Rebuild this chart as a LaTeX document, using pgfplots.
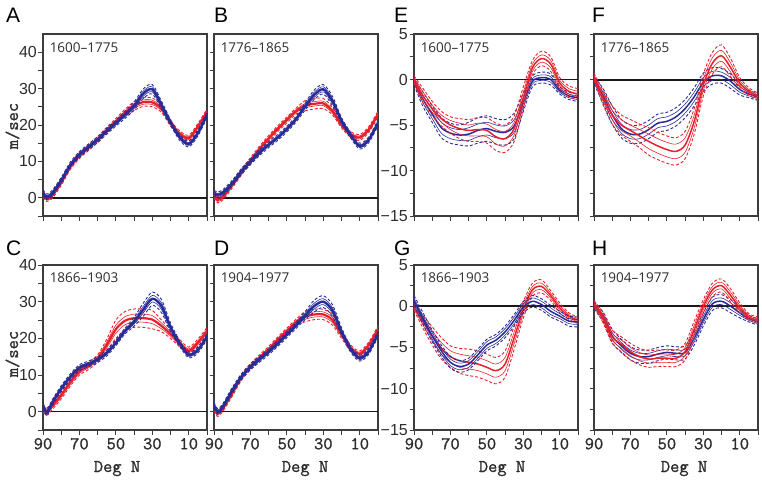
\documentclass[border=0pt]{standalone}
\usepackage{pgfplots}
\pgfplotsset{compat=1.18}
\usepackage{pgfplotstable}
\usepackage{fontspec}
\setmainfont{Liberation Sans}
\newfontfamily\insetfont{Open Sans}
\newfontfamily\monob{Latin Modern Mono}[FakeBold=1.2]
\definecolor{cred}{RGB}{232,32,42}
\definecolor{cblue}{RGB}{40,44,150}
\definecolor{axgray}{RGB}{60,60,60}
\definecolor{txtgray}{RGB}{45,45,45}

% ---------------- data: x, mean, inner upper/lower, outer upper/lower
\pgfplotstableread{
x m a b c d
90 1.5 1.9 1.1 2.3 0.7
88 0.2 0.6 -0.2 1.0 -0.6
85 1.2 1.6 0.8 2.0 0.4
80 4.8 5.2 4.4 5.6 4.0
75 9.0 9.4 8.6 9.8 8.2
70 11.9 12.3 11.5 12.7 11.1
65 14.0 14.4 13.6 14.8 13.2
60 16.0 16.4 15.6 16.8 15.2
55 18.3 18.7 17.9 19.1 17.5
50 20.5 20.9 20.1 21.3 19.7
45 22.8 23.3 22.3 23.8 21.8
40 25.2 25.8 24.6 26.3 24.1
35 28.6 29.3 27.9 29.9 27.3
30 29.8 30.5 29.1 31.1 28.5
25 25.5 26.1 24.9 26.6 24.4
20 20.7 21.1 20.3 21.5 19.9
15 16.6 17.0 16.2 17.4 15.8
10 14.8 15.2 14.4 15.6 14.0
5 17.8 18.2 17.4 18.6 17.0
0 22.8 23.2 22.4 23.6 22.0
}\Ab
\pgfplotstableread{
x m a b c d
90 1.0 1.4 0.6 1.8 0.2
88 -0.2 0.2 -0.6 0.6 -1.0
85 0.6 1.0 0.2 1.4 -0.2
80 4.2 4.6 3.8 5.0 3.4
75 8.6 9.0 8.2 9.4 7.8
70 11.6 12.0 11.2 12.4 10.8
65 13.8 14.2 13.4 14.6 13.0
60 16.0 16.4 15.6 16.8 15.2
55 18.6 19.0 18.2 19.4 17.8
50 21.0 21.4 20.6 21.8 20.2
45 23.3 23.8 22.8 24.3 22.3
40 25.2 25.8 24.6 26.4 24.0
35 26.3 26.9 25.7 27.5 25.1
30 26.2 26.8 25.6 27.4 25.0
25 24.5 25.0 24.0 25.5 23.5
20 20.5 20.9 20.1 21.3 19.7
15 17.6 18.0 17.2 18.4 16.8
10 16.4 16.8 16.0 17.2 15.6
5 19.6 20.0 19.2 20.4 18.8
0 23.6 24.0 23.2 24.4 22.8
}\Ar
\pgfplotstableread{
x m a b c d
90 1.3 1.7 0.9 2.1 0.5
88 0.8 1.2 0.4 1.6 0.0
85 1.5 1.9 1.1 2.3 0.7
80 4.0 4.4 3.6 4.8 3.2
75 7.2 7.6 6.8 8.0 6.4
70 9.9 10.3 9.5 10.7 9.1
65 12.4 12.8 12.0 13.2 11.6
60 14.6 15.0 14.2 15.4 13.8
55 16.6 17.0 16.2 17.4 15.8
50 18.9 19.3 18.5 19.7 18.1
45 21.6 22.0 21.2 22.4 20.8
40 25.1 25.6 24.6 26.1 24.1
35 28.3 29.0 27.6 29.6 27.0
30 29.8 30.5 29.1 31.1 28.5
25 26.6 27.3 25.9 27.9 25.3
20 21.2 21.6 20.8 22.0 20.4
15 17.2 17.6 16.8 18.0 16.4
10 14.2 14.6 13.8 15.0 13.4
5 16.0 16.4 15.6 16.8 15.2
0 20.6 21.0 20.2 21.4 19.8
}\Bb
\pgfplotstableread{
x m a b c d
90 0.8 1.2 0.4 1.6 0.0
88 -0.6 -0.2 -1.0 0.2 -1.4
85 0.3 0.7 -0.1 1.1 -0.5
80 3.5 3.9 3.1 4.3 2.7
75 7.0 7.4 6.6 7.8 6.2
70 10.2 10.6 9.8 11.0 9.4
65 13.4 13.8 13.0 14.2 12.6
60 16.3 16.7 15.9 17.1 15.5
55 19.0 19.4 18.6 19.8 18.2
50 21.4 21.8 21.0 22.2 20.6
45 23.8 24.2 23.4 24.6 23.0
40 25.3 25.9 24.7 26.7 23.9
35 25.8 26.4 25.2 27.2 24.4
30 25.9 26.5 25.3 27.3 24.5
25 23.8 24.3 23.3 24.8 22.8
20 20.0 20.4 19.6 20.8 19.2
15 17.4 17.8 17.0 18.2 16.6
10 16.6 17.0 16.2 17.4 15.8
5 18.8 19.2 18.4 19.6 18.0
0 23.0 23.4 22.6 23.8 22.2
}\Br
\pgfplotstableread{
x m a b c d
90 1.8 2.2 1.4 2.6 1.0
88 -0.3 0.1 -0.7 0.5 -1.1
85 2.4 2.8 2.0 3.2 1.6
80 6.3 6.7 5.9 7.1 5.5
75 9.5 9.9 9.1 10.3 8.7
70 12.0 12.4 11.6 12.8 11.2
65 13.0 13.4 12.6 13.8 12.2
60 14.2 14.6 13.8 15.0 13.4
55 16.0 16.4 15.6 16.8 15.2
50 18.8 19.2 18.4 19.6 18.0
45 22.0 22.4 21.6 22.8 21.2
40 24.5 25.1 23.9 25.7 23.3
35 27.8 28.7 26.9 29.6 26.0
30 30.8 31.7 29.9 32.6 29.0
25 28.8 29.7 27.9 30.6 27.0
20 23.0 23.6 22.4 24.2 21.8
15 18.6 19.0 18.2 19.4 17.8
10 15.5 15.9 15.1 16.3 14.7
5 16.8 17.2 16.4 17.6 16.0
0 20.5 20.9 20.1 21.3 19.7
}\Cb
\pgfplotstableread{
x m a b c d
90 1.0 1.5 0.5 2.0 0.0
88 0.0 0.5 -0.5 1.0 -1.0
85 1.5 2.0 1.0 2.5 0.5
80 4.5 5.0 4.0 5.5 3.5
75 8.0 8.5 7.5 9.0 7.0
70 11.0 11.5 10.5 12.0 10.0
65 12.5 13.0 12.0 13.5 11.5
60 14.5 15.0 14.0 15.5 13.5
55 18.2 19.0 17.4 19.8 16.6
50 22.5 23.6 21.4 25.0 20.0
45 24.8 25.9 23.7 27.3 22.3
40 25.5 26.6 24.4 28.0 23.0
35 25.5 26.6 24.4 28.0 23.0
30 25.1 26.2 24.0 27.6 22.6
25 23.4 24.2 22.6 25.0 21.8
20 21.2 21.8 20.6 22.4 20.0
15 18.7 19.2 18.2 19.7 17.7
10 16.6 17.1 16.1 17.6 15.6
5 18.8 19.3 18.3 19.8 17.8
0 22.0 22.5 21.5 23.0 21.0
}\Cr
\pgfplotstableread{
x m a b c d
90 1.8 2.2 1.4 2.6 1.0
88 0.0 0.4 -0.4 0.8 -0.8
85 1.5 1.9 1.1 2.3 0.7
80 5.8 6.2 5.4 6.6 5.0
75 9.5 9.9 9.1 10.3 8.7
70 12.2 12.6 11.8 13.0 11.4
65 14.3 14.7 13.9 15.1 13.5
60 16.3 16.7 15.9 17.1 15.5
55 18.6 19.0 18.2 19.4 17.8
50 21.0 21.4 20.6 21.8 20.2
45 23.5 23.9 23.1 24.3 22.7
40 26.2 26.8 25.6 27.3 25.1
35 28.8 29.6 28.0 30.4 27.2
30 30.0 30.8 29.2 31.6 28.4
25 27.6 28.4 26.8 29.2 26.0
20 21.9 22.4 21.4 22.9 20.9
15 17.0 17.4 16.6 17.8 16.2
10 14.6 15.0 14.2 15.4 13.8
5 16.5 16.9 16.1 17.3 15.7
0 21.2 21.6 20.8 22.0 20.4
}\Db
\pgfplotstableread{
x m a b c d
90 1.0 1.4 0.6 1.8 0.2
88 -0.5 -0.1 -0.9 0.3 -1.3
85 1.0 1.4 0.6 1.8 0.2
80 5.0 5.4 4.6 5.8 4.2
75 9.3 9.7 8.9 10.1 8.5
70 12.3 12.7 11.9 13.1 11.5
65 14.7 15.1 14.3 15.5 13.9
60 17.0 17.4 16.6 17.8 16.2
55 19.6 20.0 19.2 20.4 18.8
50 22.0 22.4 21.6 22.8 21.2
45 24.4 24.8 24.0 25.2 23.6
40 25.9 26.6 25.2 27.3 24.5
35 26.5 27.2 25.8 27.9 25.1
30 26.5 27.2 25.8 27.9 25.1
25 25.0 25.7 24.3 26.4 23.6
20 21.0 21.5 20.5 22.0 20.0
15 17.4 17.8 17.0 18.2 16.6
10 15.8 16.2 15.4 16.6 15.0
5 18.2 18.6 17.8 19.0 17.4
0 22.6 23.0 22.2 23.4 21.8
}\Dr
\pgfplotstableread{
x m a b c d
90 0.0 0.2 -0.2 0.4 -0.4
85 -1.8 -1.4 -2.2 -1.0 -2.6
80 -3.2 -2.8 -3.6 -2.4 -4.0
75 -4.3 -3.9 -4.7 -3.5 -5.1
70 -5.0 -4.5 -5.5 -4.1 -5.9
65 -5.4 -4.8 -6.0 -4.3 -6.5
60 -5.6 -5.0 -6.2 -4.4 -6.8
55 -5.5 -4.8 -6.2 -4.2 -6.8
50 -5.6 -4.9 -6.3 -4.2 -7.0
45 -6.3 -5.5 -7.1 -4.8 -7.8
40 -6.5 -5.7 -7.3 -5.0 -8.0
35 -5.4 -4.7 -6.1 -4.0 -6.8
30 -2.0 -1.4 -2.6 -0.8 -3.2
25 1.3 1.7 0.9 2.1 0.5
20 2.3 2.7 1.9 3.1 1.5
15 1.7 2.1 1.3 2.5 0.9
10 -0.4 -0.1 -0.7 0.2 -1.0
5 -1.3 -1.0 -1.6 -0.7 -1.9
0 -1.6 -1.3 -1.9 -1.0 -2.2
}\Er
\pgfplotstableread{
x m a b c d
90 -0.2 0.0 -0.4 0.2 -0.6
85 -2.2 -1.8 -2.6 -1.4 -3.0
80 -3.8 -3.3 -4.3 -2.9 -4.7
75 -5.3 -4.7 -5.9 -4.2 -6.4
70 -5.9 -5.3 -6.5 -4.8 -7.0
65 -6.1 -5.5 -6.7 -5.0 -7.2
60 -6.0 -5.3 -6.7 -4.7 -7.3
55 -5.6 -4.9 -6.3 -4.2 -7.0
50 -5.4 -4.7 -6.1 -4.0 -6.8
45 -5.7 -5.0 -6.4 -4.3 -7.1
40 -5.8 -5.1 -6.5 -4.4 -7.2
35 -5.1 -4.4 -5.8 -3.7 -6.5
30 -2.5 -2.0 -3.0 -1.5 -3.5
25 -0.2 0.1 -0.5 0.4 -0.8
20 0.2 0.5 -0.1 0.8 -0.4
15 0.0 0.3 -0.3 0.6 -0.6
10 -1.2 -1.0 -1.4 -0.8 -1.6
5 -1.8 -1.6 -2.0 -1.4 -2.2
0 -2.0 -1.8 -2.2 -1.6 -2.4
}\Eb
\pgfplotstableread{
x m a b c d
90 0.3 0.5 0.1 0.7 -0.1
85 -2.0 -1.6 -2.4 -1.2 -2.8
80 -3.9 -3.4 -4.4 -2.9 -4.9
75 -5.0 -4.4 -5.6 -3.9 -6.1
70 -5.6 -5.0 -6.2 -4.4 -6.8
65 -6.2 -5.5 -6.9 -4.9 -7.5
60 -6.8 -6.0 -7.6 -5.3 -8.3
55 -7.3 -6.5 -8.1 -5.8 -8.8
50 -7.7 -6.9 -8.5 -6.2 -9.2
45 -7.9 -7.1 -8.7 -6.4 -9.4
40 -7.2 -6.4 -8.0 -5.7 -8.7
35 -4.6 -3.9 -5.3 -3.2 -6.0
30 -0.6 0.0 -1.2 0.6 -1.8
25 1.8 2.4 1.2 3.0 0.6
20 2.6 3.2 2.0 3.8 1.4
15 1.3 1.8 0.8 2.3 0.3
10 -0.4 -0.1 -0.7 0.2 -1.0
5 -1.3 -1.1 -1.5 -0.9 -1.7
0 -1.9 -1.7 -2.1 -1.5 -2.3
}\Fr
\pgfplotstableread{
x m a b c d
90 -0.1 0.1 -0.3 0.3 -0.5
85 -1.8 -1.4 -2.2 -1.0 -2.6
80 -3.9 -3.4 -4.4 -2.9 -4.9
75 -5.4 -4.9 -5.9 -4.4 -6.4
70 -6.0 -5.5 -6.5 -5.0 -7.0
65 -6.0 -5.5 -6.5 -5.0 -7.0
60 -5.5 -5.0 -6.0 -4.5 -6.5
55 -4.8 -4.3 -5.3 -3.8 -5.8
50 -4.6 -4.1 -5.1 -3.6 -5.6
45 -4.1 -3.6 -4.6 -3.1 -5.1
40 -3.2 -2.7 -3.7 -2.2 -4.2
35 -1.9 -1.4 -2.4 -0.9 -2.9
30 -0.3 0.2 -0.8 0.7 -1.3
25 0.4 0.9 -0.1 1.3 -0.5
20 0.4 0.8 0.0 1.2 -0.4
15 -0.2 0.2 -0.6 0.6 -1.0
10 -1.1 -0.8 -1.4 -0.5 -1.7
5 -1.6 -1.4 -1.8 -1.2 -2.0
0 -1.9 -1.7 -2.1 -1.5 -2.3
}\Fb
\pgfplotstableread{
x m a b c d
90 -0.1 0.1 -0.3 0.3 -0.5
85 -1.9 -1.5 -2.3 -1.1 -2.7
80 -3.6 -3.0 -4.2 -2.5 -4.7
75 -5.1 -4.4 -5.8 -3.8 -6.4
70 -6.1 -5.4 -6.8 -4.8 -7.4
65 -6.6 -5.8 -7.4 -5.1 -8.1
60 -6.8 -6.0 -7.6 -5.2 -8.4
55 -7.0 -6.2 -7.8 -5.4 -8.6
50 -7.4 -6.6 -8.2 -5.8 -9.0
45 -7.8 -7.0 -8.6 -6.2 -9.4
40 -7.0 -6.2 -7.8 -5.4 -8.6
35 -3.8 -3.1 -4.5 -2.4 -5.2
30 -0.4 0.1 -0.9 0.6 -1.4
25 2.0 2.4 1.6 2.8 1.2
20 2.4 2.8 2.0 3.2 1.6
15 1.3 1.6 1.0 1.9 0.7
10 -0.2 0.1 -0.5 0.4 -0.8
5 -1.2 -1.0 -1.4 -0.8 -1.6
0 -1.7 -1.5 -1.9 -1.3 -2.1
}\Gr
\pgfplotstableread{
x m a b c d
90 0.7 1.0 0.4 1.3 0.1
85 -1.5 -1.2 -1.8 -0.8 -2.2
80 -3.6 -3.2 -4.0 -2.9 -4.3
75 -5.4 -5.0 -5.8 -4.7 -6.1
70 -6.8 -6.4 -7.2 -6.1 -7.5
65 -7.3 -6.9 -7.7 -6.6 -8.0
60 -7.0 -6.6 -7.4 -6.3 -7.7
55 -5.9 -5.5 -6.3 -5.2 -6.6
50 -4.7 -4.3 -5.1 -4.0 -5.4
45 -4.1 -3.7 -4.5 -3.4 -4.8
40 -3.1 -2.7 -3.5 -2.4 -3.8
35 -1.7 -1.3 -2.1 -1.0 -2.4
30 -0.1 0.3 -0.5 0.6 -0.8
25 0.6 1.0 0.2 1.3 -0.1
20 0.2 0.6 -0.2 0.9 -0.5
15 -0.6 -0.2 -1.0 0.1 -1.3
10 -1.2 -0.9 -1.5 -0.6 -1.8
5 -1.8 -1.5 -2.1 -1.2 -2.4
0 -1.9 -1.6 -2.2 -1.3 -2.5
}\Gb
\pgfplotstableread{
x m a b c d
90 0.3 0.5 0.1 0.7 -0.1
85 -1.4 -1.1 -1.7 -0.8 -2.0
80 -3.7 -3.3 -4.1 -2.9 -4.5
75 -4.6 -4.1 -5.1 -3.7 -5.5
70 -5.5 -5.0 -6.0 -4.5 -6.5
65 -6.1 -5.6 -6.6 -5.1 -7.1
60 -6.4 -5.9 -6.9 -5.4 -7.4
55 -6.3 -5.8 -6.8 -5.3 -7.3
50 -6.3 -5.8 -6.8 -5.3 -7.3
45 -6.3 -5.8 -6.8 -5.3 -7.3
40 -5.5 -5.0 -6.0 -4.5 -6.5
35 -2.8 -2.3 -3.3 -1.8 -3.8
30 0.0 0.4 -0.4 0.8 -0.8
25 2.0 2.4 1.6 2.8 1.2
20 2.5 2.9 2.1 3.3 1.7
15 1.3 1.7 0.9 2.1 0.5
10 -0.2 0.1 -0.5 0.4 -0.8
5 -1.3 -1.1 -1.5 -0.9 -1.7
0 -1.7 -1.5 -1.9 -1.3 -2.1
}\Hr
\pgfplotstableread{
x m a b c d
90 0.1 0.3 -0.1 0.5 -0.3
85 -1.3 -1.0 -1.6 -0.7 -1.9
80 -3.6 -3.2 -4.0 -2.8 -4.4
75 -4.8 -4.4 -5.2 -4.0 -5.6
70 -5.7 -5.3 -6.1 -4.9 -6.5
65 -6.1 -5.7 -6.5 -5.3 -6.9
60 -6.1 -5.7 -6.5 -5.3 -6.9
55 -5.8 -5.4 -6.2 -5.0 -6.6
50 -5.6 -5.2 -6.0 -4.8 -6.4
45 -5.7 -5.3 -6.1 -4.9 -6.5
40 -5.6 -5.2 -6.0 -4.8 -6.4
35 -3.9 -3.5 -4.3 -3.1 -4.7
30 -1.6 -1.2 -2.0 -0.8 -2.4
25 0.3 0.7 -0.1 1.1 -0.5
20 0.6 1.0 0.2 1.4 -0.2
15 0.0 0.4 -0.4 0.8 -0.8
10 -0.8 -0.5 -1.1 -0.2 -1.4
5 -1.5 -1.3 -1.7 -1.1 -1.9
0 -1.9 -1.7 -2.1 -1.5 -2.3
}\Hb

\newcommand{\series}[3]{%
  \addplot[#2, line width=0.9pt, dash pattern=on 3pt off 2pt, smooth] table[x=x,y=c]{#1};
  \addplot[#2, line width=0.9pt, dash pattern=on 3pt off 2pt, smooth] table[x=x,y=d]{#1};
  \addplot[#2, line width=0.6pt, smooth] table[x=x,y=a]{#1};
  \addplot[#2, line width=0.6pt, smooth] table[x=x,y=b]{#1};
  \addplot[#2, line width=#3, smooth] table[x=x,y=m]{#1};
}
\newcommand{\zeroline}[1]{\addplot[black!90, line width=#1] coordinates {(0,0) (90,0)};}

\pgfplotsset{
  panel/.style={
    scale only axis, width=164pt,
    xmin=0, xmax=90, x dir=reverse,
    xtick={10,30,50,70,90}, minor xtick={0,20,40,60,80},
    axis line style={axgray, line width=1.2pt},
    every tick/.style={axgray, line width=0.9pt},
    tick align=outside, xtick pos=bottom, ytick pos=left,
    major tick length=4.5pt, minor tick length=4.5pt,
    /pgf/number format/assume math mode=true,
    yticklabel style={font=\fontsize{16}{16}\selectfont, text=txtgray, inner sep=1.5pt},
    xticklabel style={font=\monob\fontsize{18}{18}\selectfont, text=txtgray},
    anchor=north west,
  },
  top/.style={height=182pt},
  bot/.style={height=165pt},
  wind/.style={ytick={0,10,20,30,40}, minor ytick={-5,5,15,25,35}, yticklabels={0,10,20,30,40}},
  anom/.style={ymin=-15, ymax=5, ytick={-15,-10,-5,0,5}, minor ytick={-12.5,-7.5,-2.5,2.5}, yticklabels={−15,−10,−5,0,5}},
  nolab/.style={yticklabels={}},
  noxlab/.style={xticklabels={}},
}
\newcommand{\inset}[1]{\node[anchor=north west, inner sep=0pt, font=\insetfont\fontsize{13.5}{14}\selectfont, text=txtgray] at (rel axis cs:0.04,0.955) {#1};}

\begin{document}
\begin{tikzpicture}[x=1pt,y=1pt]
\useasboundingbox (0,0) rectangle (762,-479);

% A
\begin{axis}[panel, top, wind, ymin=-5, ymax=45, noxlab, at={(43pt,-34pt)}]
\zeroline{1.6pt}
\series{\Ar}{cred}{2.2pt}
\series{\Ab}{cblue}{2.4pt}
\inset{1600–1775}
\end{axis}
% B
\begin{axis}[panel, top, wind, ymin=-5, ymax=45, nolab, noxlab, at={(214pt,-34pt)}]
\zeroline{2.0pt}
\series{\Br}{cred}{2.2pt}
\series{\Bb}{cblue}{2.4pt}
\inset{1776–1865}
\end{axis}
% E
\begin{axis}[panel, top, anom, noxlab, at={(414pt,-34pt)}]
\zeroline{1.6pt}
\series{\Eb}{cblue}{1.5pt}
\series{\Er}{cred}{1.5pt}
\inset{1600–1775}
\end{axis}
% F
\begin{axis}[panel, top, anom, nolab, noxlab, at={(594pt,-34pt)}]
\zeroline{2.0pt}
\series{\Fb}{cblue}{1.5pt}
\series{\Fr}{cred}{1.5pt}
\inset{1776–1865}
\end{axis}
% C
\begin{axis}[panel, bot, wind, ymin=-5, ymax=40, at={(43pt,-265pt)}]
\zeroline{1.6pt}
\series{\Cr}{cred}{2.2pt}
\series{\Cb}{cblue}{2.4pt}
\inset{1866–1903}
\end{axis}
% D
\begin{axis}[panel, bot, wind, ymin=-5, ymax=40, nolab, at={(214pt,-265pt)}]
\zeroline{1.6pt}
\series{\Dr}{cred}{2.2pt}
\series{\Db}{cblue}{2.4pt}
\inset{1904–1977}
\end{axis}
% G
\begin{axis}[panel, bot, anom, at={(414pt,-265pt)}]
\zeroline{2.0pt}
\series{\Gr}{cred}{1.5pt}
\series{\Gb}{cblue}{1.5pt}
\inset{1866–1903}
\end{axis}
% H
\begin{axis}[panel, bot, anom, nolab, at={(594pt,-265pt)}]
\zeroline{1.6pt}
\series{\Hb}{cblue}{1.5pt}
\series{\Hr}{cred}{1.5pt}
\inset{1904–1977}
\end{axis}

% panel letters
\begin{scope}[every node/.style={anchor=base west, inner sep=0pt, font=\fontsize{21}{21}\selectfont}]
\node at (6,-22) {A};
\node at (214,-22) {B};
\node at (394,-22) {E};
\node at (592,-22) {F};
\node at (6,-255) {C};
\node at (214,-255) {D};
\node at (394,-255) {G};
\node at (592,-255) {H};
\end{scope}

% axis titles
\begin{scope}[every node/.style={inner sep=0pt, text=txtgray, font=\monob\fontsize{18}{18}\selectfont}]
\node[rotate=90, anchor=center] at (12.5,-126) {m/sec};
\node[rotate=90, anchor=center] at (12.5,-354) {m/sec};
\node[anchor=base] at (117,-472) {Deg N};
\node[anchor=base] at (305,-472) {Deg N};
\node[anchor=base] at (502,-472) {Deg N};
\node[anchor=base] at (684,-472) {Deg N};
\end{scope}
\end{tikzpicture}
\end{document}
